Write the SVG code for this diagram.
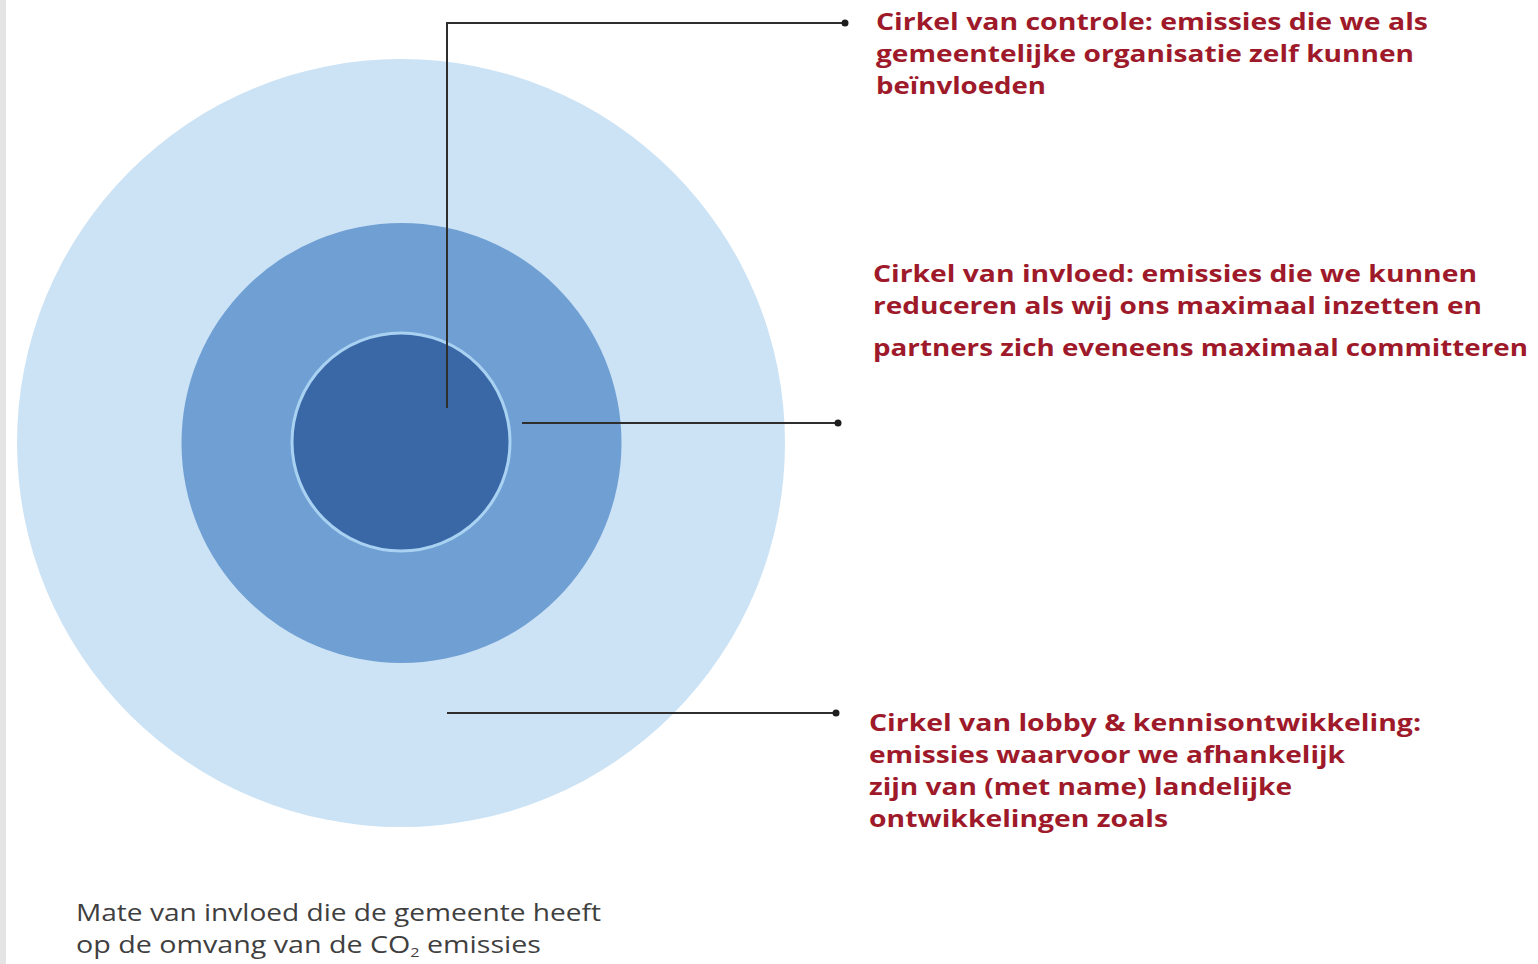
<svg xmlns="http://www.w3.org/2000/svg" width="1538" height="964" viewBox="0 0 1538 964">
<style>
.lbl{font-family:"Open Sans","DejaVu Sans",sans-serif;font-weight:700;font-size:24px;fill:#9e1a2a}
.cap{font-family:"Open Sans","DejaVu Sans",sans-serif;font-weight:400;font-size:23px;fill:#3f3f3f}
.con{stroke:#2e2e2e;stroke-width:2;fill:none}
.dot{fill:#1e1e1e}
</style>
<rect x="0" y="0" width="1538" height="964" fill="#ffffff"/>
<rect x="0" y="0" width="6" height="964" fill="#e4e4e4"/>
<g id="outer-circle"><circle cx="401" cy="443" r="384" fill="#cce3f5"/></g>
<g id="middle-circle"><circle cx="401.5" cy="443" r="220" fill="#6f9fd3"/></g>
<g id="inner-circle"><circle cx="401" cy="442" r="109" fill="#3a68a6" stroke="#a9d1f2" stroke-width="3"/></g>
<g id="connectors">
<polyline class="con" points="447,408 447,23 843,23"/>
<circle class="dot" cx="845" cy="23" r="3.5"/>
<line class="con" x1="522" y1="423" x2="836" y2="423"/>
<circle class="dot" cx="838" cy="423" r="3.5"/>
<line class="con" x1="447" y1="713" x2="834" y2="713"/>
<circle class="dot" cx="836" cy="713" r="3.5"/>
</g>
<g id="label-controle">
<text class="lbl" x="876" y="30" textLength="552" lengthAdjust="spacingAndGlyphs">Cirkel van controle: emissies die we als</text>
<text class="lbl" x="876" y="62" textLength="538" lengthAdjust="spacingAndGlyphs">gemeentelijke organisatie zelf kunnen</text>
<text class="lbl" x="876" y="94" textLength="170" lengthAdjust="spacingAndGlyphs">beïnvloeden</text>
</g>
<g id="label-invloed">
<text class="lbl" x="873" y="282" textLength="604" lengthAdjust="spacingAndGlyphs">Cirkel van invloed: emissies die we kunnen</text>
<text class="lbl" x="873" y="314" textLength="609" lengthAdjust="spacingAndGlyphs">reduceren als wij ons maximaal inzetten en</text>
<text class="lbl" x="873" y="356" textLength="655" lengthAdjust="spacingAndGlyphs">partners zich eveneens maximaal committeren</text>
</g>
<g id="label-lobby">
<text class="lbl" x="869" y="731" textLength="552" lengthAdjust="spacingAndGlyphs">Cirkel van lobby &amp; kennisontwikkeling:</text>
<text class="lbl" x="869" y="763" textLength="476" lengthAdjust="spacingAndGlyphs">emissies waarvoor we afhankelijk</text>
<text class="lbl" x="869" y="795" textLength="423" lengthAdjust="spacingAndGlyphs">zijn van (met name) landelijke</text>
<text class="lbl" x="869" y="827" textLength="299" lengthAdjust="spacingAndGlyphs">ontwikkelingen zoals</text>
</g>
<g id="caption">
<text class="cap" x="76" y="921" textLength="525" lengthAdjust="spacingAndGlyphs">Mate van invloed die de gemeente heeft</text>
<text class="cap" x="76" y="953" textLength="465" lengthAdjust="spacingAndGlyphs">op de omvang van de CO<tspan font-size="13" dy="4">2</tspan><tspan dy="-4"> emissies</tspan></text>
</g>
</svg>
